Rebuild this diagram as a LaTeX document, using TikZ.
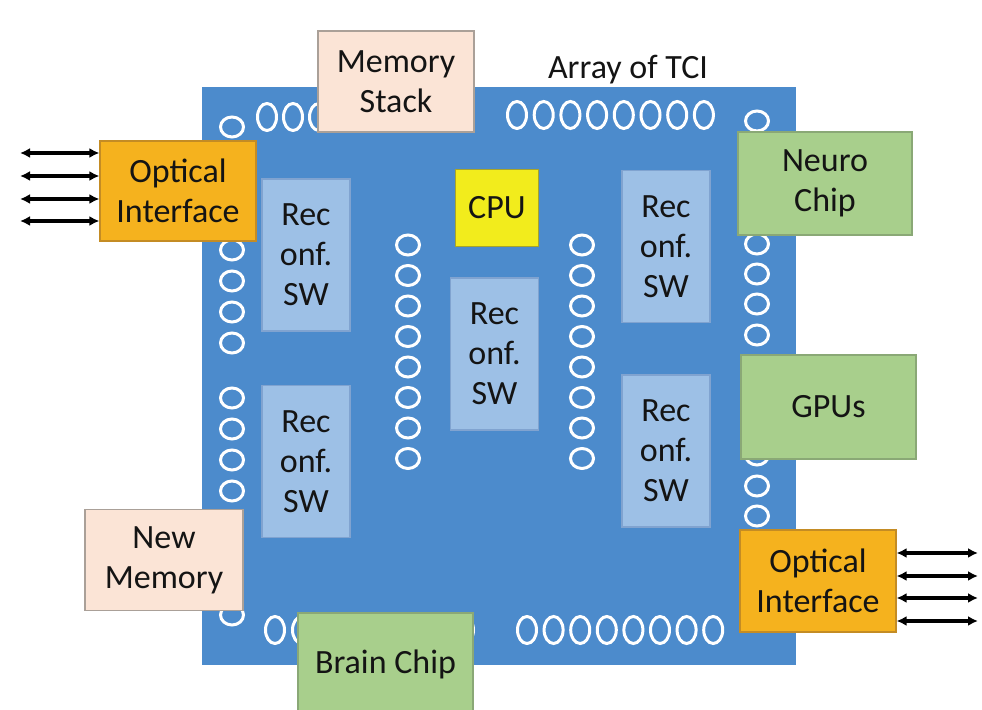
\documentclass[tikz,border=0pt]{standalone}
\usepackage{fontspec}
\setmainfont{Carlito}
\usetikzlibrary{arrows.meta}
\tikzset{>={Latex[length=5pt,width=5pt]}}
\definecolor{boardblue}{RGB}{76,139,204}
\definecolor{recblue}{RGB}{157,192,230}
\definecolor{recedge}{RGB}{128,163,208}
\definecolor{peach}{RGB}{251,228,214}
\definecolor{peachedge}{RGB}{170,160,152}
\definecolor{optorange}{RGB}{245,178,30}
\definecolor{optedge}{RGB}{196,140,36}
\definecolor{chipgreen}{RGB}{168,207,140}
\definecolor{greenedge}{RGB}{138,168,118}
\definecolor{cpuyellow}{RGB}{242,236,28}
\definecolor{cpuedge}{RGB}{168,164,40}
\definecolor{textdark}{RGB}{20,20,20}

\begin{document}
\begin{tikzpicture}[x=0.5pt, y=-0.5pt,
    chip/.style={draw, align=center, inner sep=0pt, line width=0.6pt,
      font=\fontsize{17}{20}\selectfont, text=textdark},
    recsw/.style={chip, fill=recblue, draw=recedge,
      minimum width=44pt, minimum height=76pt},
    pin/.style={draw=white, line width=1.5pt},
    link/.style={<->, line width=2pt}]
  \useasboundingbox (0,0) rectangle (982,710);

  % board
  \fill[boardblue] (202,87) rectangle (796,665);
  \node[font=\fontsize{17}{20}\selectfont, text=textdark] (tcilabel) at (628,70) {Array of TCI};

  % pins along top and bottom
  \foreach \k in {0,...,7} {
    \draw[pin] ({267+26*\k},117) ellipse [x radius=4.75pt, y radius=6.75pt];
    \draw[pin] ({517+26.7*\k},115) ellipse [x radius=4.75pt, y radius=6.75pt];
    \draw[pin] ({275+27*\k},630) ellipse [x radius=4.75pt, y radius=6.75pt];
    \draw[pin] ({527+26.6*\k},630) ellipse [x radius=4.75pt, y radius=6.75pt];
  }
  % pins in columns
  \foreach \y in {127,250,281,312,343,398,429,460,491,615}
    \draw[pin] (232,\y) ellipse [x radius=5.75pt, y radius=5pt];
  \foreach \k in {0,...,7} {
    \draw[pin] (408,{245+30.5*\k}) ellipse [x radius=5.75pt, y radius=5pt];
    \draw[pin] (582,{245+30.5*\k}) ellipse [x radius=5.75pt, y radius=5pt];
  }
  \foreach \y in {121,244,274,304,335,455,486,516}
    \draw[pin] (757,\y) ellipse [x radius=5.75pt, y radius=5pt];

  % switches and cpu
  \node[recsw] (sw1) at (306,255) {Rec\\onf.\\SW};
  \node[recsw] (sw2) at (306,461.5) {Rec\\onf.\\SW};
  \node[recsw] (sw3) at (494.5,354) {Rec\\onf.\\SW};
  \node[recsw] (sw4) at (666,246.5) {Rec\\onf.\\SW};
  \node[recsw] (sw5) at (666,451) {Rec\\onf.\\SW};
  \node[chip, fill=cpuyellow, draw=cpuedge, minimum width=41.5pt, minimum height=38.5pt] (cpu) at (497,208) {CPU};

  % attached chips
  \node[chip, fill=peach, draw=peachedge, minimum width=78pt, minimum height=50.5pt] (memstack) at (396,81.5) {Memory\\Stack};
  \node[chip, fill=peach, draw=peachedge, minimum width=79pt, minimum height=50.5pt] (newmem) at (164,560) {New\\Memory};
  \node[chip, fill=optorange, draw=optedge, minimum width=78pt, minimum height=50pt] (optL) at (178,191) {Optical\\Interface};
  \node[chip, fill=optorange, draw=optedge, minimum width=78pt, minimum height=51pt] (optR) at (818,581) {Optical\\Interface};
  \node[chip, fill=chipgreen, draw=greenedge, minimum width=87pt, minimum height=51.5pt] (neuro) at (825,183.5) {Neuro\\Chip};
  \node[chip, fill=chipgreen, draw=greenedge, minimum width=87.5pt, minimum height=52pt] (gpus) at (828.5,407) {GPUs};
  \node[chip, fill=chipgreen, draw=greenedge, minimum width=87.5pt, minimum height=51pt] (brain) at (385.5,664) {Brain Chip};

  % optical links
  \foreach \y [count=\i] in {153,176,199,221} {
    \coordinate (inL\i) at (20,\y);
    \draw[link] (inL\i) -- (inL\i -| optL.west);
  }
  \foreach \y [count=\i] in {553,576,598,621} {
    \coordinate (inR\i) at (978,\y);
    \draw[link] (inR\i -| optR.east) -- (inR\i);
  }
\end{tikzpicture}
\end{document}
